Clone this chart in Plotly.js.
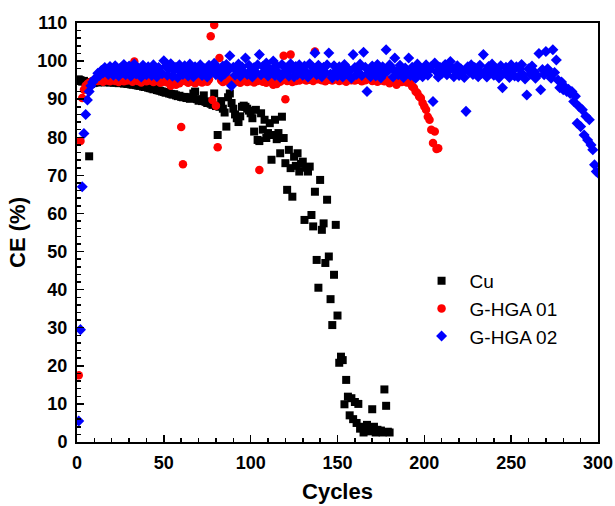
<!DOCTYPE html>
<html>
<head>
<meta charset="utf-8">
<script src="https://cdn.plot.ly/plotly-3.0.1.min.js"></script>
<style>html,body{margin:0;padding:0;background:#fff;}#chart{width:615px;height:506px;}</style>
</head>
<body>
<div id="chart"></div>
<script>
// ---- Data ----
const cuCycles = [];
for (let i = 1; i <= 180; i++) cuCycles.push(i);
const cuCE = [
 95.2,95.0,94.6,94.8,94.5,94.4,75.0,94.0,94.2,94.3,
 94.5,94.4,94.6,94.5,94.6,94.4,94.5,94.6,94.4,94.5,
 94.3,94.5,94.4,94.2,94.4,94.3,94.1,94.2,94.0,94.1,
 93.9,93.8,93.9,93.7,93.6,93.5,93.6,93.3,93.2,93.3,
 93.0,92.9,92.8,92.6,92.7,92.4,92.3,92.2,92.0,91.9,
 91.7,91.8,91.5,91.4,91.2,91.3,91.0,90.8,90.9,90.6,
 90.5,90.6,90.3,90.4,90.1,90.5,91.5,92.0,90.0,89.6,
 89.8,89.5,91.0,89.3,89.0,89.4,88.8,88.5,91.5,88.2,
 80.6,88.0,89.5,87.5,86.5,82.8,90.5,91.5,89.0,87.5,
 86.0,85.0,84.0,85.5,88.0,88.3,88.0,87.5,87.0,86.3,
 85.0,81.5,87.2,79.3,79.0,86.3,82.0,84.6,79.8,81.1,
 83.7,74.1,80.6,84.6,79.5,81.1,75.8,85.4,79.8,73.2,
 66.2,76.7,71.9,64.4,74.9,72.5,75.8,71.0,73.0,73.6,
 58.3,72.0,71.0,72.3,59.6,56.6,65.7,47.8,40.5,68.8,
 55.7,57.4,47.0,63.6,48.7,37.5,30.7,43.9,57.0,33.2,
 20.8,22.4,21.5,9.9,16.3,11.9,7.0,11.5,6.0,10.5,
 5.0,10.0,3.5,4.0,2.5,3.5,4.5,2.8,3.0,8.6,
 4.0,2.5,3.2,2.8,3.0,2.5,13.8,9.5,2.7,2.5
];

const g01Cycles = [];
for (let i = 1; i <= 208; i++) g01Cycles.push(i);
const g01CE = [
 17.5,79.0,90.3,92.5,93.5,94.0,94.3,94.6,94.8,95.0,
 95.2,94.8,95.4,95.0,94.6,95.3,94.9,95.5,94.7,95.1,
 95.4,94.8,95.2,94.5,95.6,95.0,94.7,95.3,94.9,95.5,
 95.1,94.6,99.9,95.2,94.8,95.6,94.4,95.0,95.3,94.7,
 95.4,94.9,95.2,94.5,95.1,94.8,95.5,94.3,95.0,94.6,
 95.2,94.4,94.9,93.5,95.3,94.7,93.8,95.0,94.2,82.7,
 72.9,94.8,95.1,94.3,95.4,94.6,95.0,94.2,95.3,94.7,
 95.1,94.4,94.9,95.5,94.6,95.2,106.5,89.8,109.5,88.3,
 77.4,100.8,95.0,94.5,95.3,94.8,95.1,94.4,95.4,94.9,
 95.2,94.6,95.0,94.3,95.5,94.8,95.1,94.5,95.3,94.7,
 95.0,94.4,95.2,94.8,71.4,95.4,94.6,95.1,94.3,95.0,
 94.7,95.3,93.8,94.5,94.0,95.2,94.6,95.0,101.4,90.0,
 94.8,95.3,101.7,94.5,95.1,94.8,95.4,94.9,95.6,95.2,
 95.3,94.9,95.6,95.1,95.5,94.8,102.5,95.7,95.2,95.8,
 95.0,95.6,94.7,95.4,95.1,95.7,94.9,95.5,95.2,95.8,
 94.8,95.4,95.0,95.6,94.6,95.3,95.7,95.0,95.4,94.9,
 95.5,95.1,95.8,94.7,95.3,95.0,95.6,97.3,95.2,94.8,
 95.4,95.0,94.6,95.3,94.9,95.5,94.7,95.1,94.8,94.2,
 95.0,94.6,95.3,93.8,94.9,95.1,94.5,94.8,95.2,94.4,
 94.7,94.2,93.3,93.0,92.0,91.6,90.7,90.3,89.0,88.1,
 87.2,85.4,84.6,82.0,78.5,81.5,76.9,77.1
];

const g02Cycles = [];
for (let i = 1; i <= 300; i++) g02Cycles.push(i);
const g02CE = [
 5.5,29.5,67.0,81.0,86.0,89.8,92.0,93.5,94.5,95.2,
 95.5,96.8,96.2,97.5,96.9,98.3,97.2,96.5,98.6,97.4,
 96.3,98.8,97.6,96.1,98.2,97.0,99.1,96.4,97.8,98.7,
 96.0,97.5,99.2,96.6,98.1,97.3,95.8,98.9,97.1,96.4,
 98.5,97.7,96.2,99.0,97.4,95.9,98.3,97.0,96.7,100.1,
 98.6,96.3,97.9,99.3,96.0,97.6,98.4,95.7,99.0,97.2,
 96.5,98.8,97.4,96.1,99.2,97.8,95.9,98.5,96.8,97.5,
 99.0,96.2,98.1,97.3,95.8,98.9,96.9,97.7,99.4,96.4,
 98.2,97.0,95.9,98.7,96.6,99.1,97.5,101.4,93.5,98.4,
 96.3,97.6,99.2,96.0,98.5,97.2,100.8,96.5,98.9,97.4,
 95.8,98.3,97.1,99.0,101.7,96.4,98.6,97.3,99.5,96.1,
 98.0,97.5,100.0,96.2,98.8,97.0,95.7,99.1,96.8,98.2,
 97.4,96.0,99.3,97.8,95.9,98.6,96.5,99.0,97.2,96.3,
 98.7,97.1,95.8,99.3,96.9,98.2,102.1,96.4,98.9,97.5,
 95.9,98.4,97.0,99.0,102.1,96.6,95.6,98.8,97.3,96.1,
 98.5,97.2,95.8,99.1,96.7,98.0,97.4,95.5,101.7,98.3,
 96.5,97.9,99.2,96.2,102.3,98.4,92.0,97.0,95.9,98.7,
 97.3,96.1,99.1,97.8,95.6,98.5,96.8,103.0,97.4,99.0,
 98.3,95.8,100.8,97.1,96.4,98.9,97.6,95.7,98.2,97.0,
 100.8,96.2,98.4,97.3,95.5,99.2,96.9,98.0,95.9,97.7,
 99.0,96.3,97.8,98.6,89.4,99.5,97.2,95.8,98.4,96.7,
 97.9,99.1,96.4,97.5,99.9,98.2,95.9,97.6,98.8,96.2,
 98.0,97.3,95.7,86.8,98.5,97.1,99.0,96.5,98.3,97.6,
 95.9,98.9,96.8,101.7,97.4,95.8,98.6,97.0,99.2,96.3,
 98.1,97.5,95.6,98.8,93.0,96.9,98.4,97.2,95.7,99.0,
 97.6,96.1,98.5,95.8,97.9,99.1,96.4,95.3,91.1,98.0,
 96.6,98.7,97.3,95.5,96.2,102.0,92.5,97.8,96.4,102.5,
 98.0,96.8,95.5,103.0,97.0,100.3,95.0,93.0,94.5,92.5,
 93.2,92.0,92.6,91.5,92.0,89.4,90.8,83.7,88.1,82.8,
 87.2,80.6,85.5,79.3,84.6,78.0,76.7,72.8,71.0,70.6
];

const seriesNames = ['Cu', 'G-HGA 01', 'G-HGA 02'];
const xTickVals = [0, 50, 100, 150, 200, 250, 300];
const yTickVals = [0, 10, 20, 30, 40, 50, 60, 70, 80, 90, 100, 110];

// ---- Chart ----
const FONT = 'Arial, "Liberation Sans", sans-serif';
const traces = [
  {x: cuCycles, y: cuCE, name: seriesNames[0], type: 'scatter', mode: 'markers',
   marker: {symbol: 'square', size: 8, color: '#000000'}},
  {x: g01Cycles, y: g01CE, name: seriesNames[1], type: 'scatter', mode: 'markers',
   marker: {symbol: 'circle', size: 8.5, color: '#ff0000'}},
  {x: g02Cycles, y: g02CE, name: seriesNames[2], type: 'scatter', mode: 'markers',
   marker: {symbol: 'diamond', size: 8.5, color: '#0000ff'}}
];

const axisCommon = {
  showline: true, linecolor: '#000', linewidth: 2, mirror: true,
  showgrid: false, zeroline: false,
  ticks: 'inside', ticklen: 7, tickwidth: 1.5, tickcolor: '#000',
  tickfont: {family: FONT, size: 18, color: '#000', weight: 'bold'}
};

const layout = {
  width: 615, height: 506,
  margin: {l: 77, r: 17, t: 23, b: 64},
  paper_bgcolor: '#fff', plot_bgcolor: '#fff',
  showlegend: true,
  legend: {x: 0.646, y: 0.43, xanchor: 'left', yanchor: 'top',
           font: {family: FONT, size: 19, color: '#000'},
           bgcolor: 'rgba(0,0,0,0)', itemwidth: 46, tracegroupgap: 0},
  xaxis: Object.assign({}, axisCommon, {
    range: [0, 300], tickvals: xTickVals, ticktext: xTickVals.map(String),
    minor: {dtick: 10, ticks: 'inside', ticklen: 4, tickwidth: 1.5, tickcolor: '#000'},
    ticklabelstandoff: 3,
    title: {text: 'Cycles', font: {family: FONT, size: 22, color: '#000', weight: 'bold'}, standoff: 12}
  }),
  yaxis: Object.assign({}, axisCommon, {
    range: [0, 110], tickvals: yTickVals, ticktext: yTickVals.map(String),
    minor: {dtick: 2, ticks: 'inside', ticklen: 4, tickwidth: 1.5, tickcolor: '#000'},
    ticklabelstandoff: 4,
    title: {text: 'CE (%)', font: {family: FONT, size: 22, color: '#000', weight: 'bold'}, standoff: 6}
  })
};

Plotly.newPlot('chart', traces, layout, {staticPlot: true, displayModeBar: false});
</script>
</body>
</html>
